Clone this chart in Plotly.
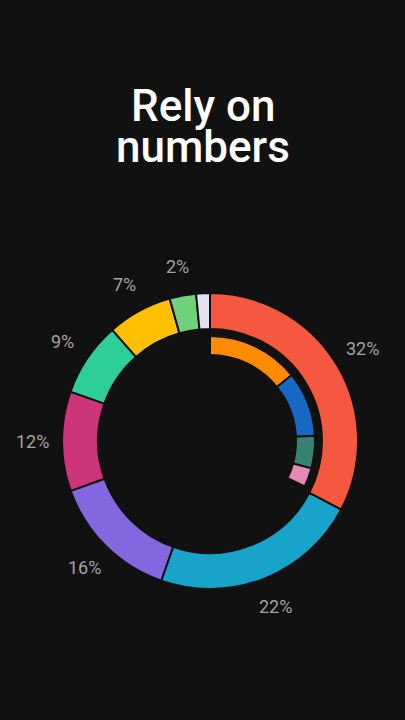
import math
import plotly.graph_objects as go

# ---- data ----
outer_names = ["A", "B", "C", "D", "E", "F", "G", "H"]
outer_values = [32.7, 22.7, 14.2, 10.9, 8.1, 7.1, 2.9, 1.5]
outer_labels = ["32%", "22%", "16%", "12%", "9%", "7%", "2%", ""]
outer_colors = ["#F5583E", "#18A3CB", "#8466DE", "#CE347A", "#2ECE98", "#FFC000", "#70D07C", "#E2E1F0"]

inner_names = ["A1", "A2", "A3", "A4", "rest"]
inner_values = [14.2, 10.0, 5.0, 2.9, 67.9]
inner_colors = ["#FF8C00", "#1768C3", "#358370", "#E888B8", "rgba(0,0,0,0)"]

title_lines = ["Rely on", "numbers"]

# ---- layout constants (pixels) ----
W, H = 405, 720
BG = "#121111"
CX, CY = 210, 441
R_OUT, R_OUT_IN = 148, 112
R_IN, R_IN_IN = 105, 86
R_LAB = 178


def dom(r):
    return dict(x=[(CX - r) / W, (CX + r) / W], y=[1 - (CY + r) / H, 1 - (CY - r) / H])


fig = go.Figure()
fig.add_trace(go.Pie(
    labels=outer_names, values=outer_values, sort=False, direction="clockwise", rotation=0,
    hole=R_OUT_IN / R_OUT, domain=dom(R_OUT),
    marker=dict(colors=outer_colors, line=dict(color=BG, width=2)),
    textinfo="none", hoverinfo="skip", showlegend=False,
))
fig.add_trace(go.Pie(
    labels=inner_names, values=inner_values, sort=False, direction="clockwise", rotation=0,
    hole=R_IN_IN / R_IN, domain=dom(R_IN),
    marker=dict(colors=inner_colors, line=dict(color=[BG, BG, BG, BG, "rgba(0,0,0,0)"], width=[2, 2, 2, 2, 0])),
    textinfo="none", hoverinfo="skip", showlegend=False,
))

annotations = []
total = sum(outer_values)
cum = 0.0
for v, t in zip(outer_values, outer_labels):
    a = math.radians((cum + v / 2) / total * 360)
    cum += v
    if not t:
        continue
    px = CX + R_LAB * math.sin(a)
    py = CY - R_LAB * math.cos(a)
    annotations.append(dict(
        x=px / W, y=1 - py / H, xref="paper", yref="paper", text=t, showarrow=False,
        xanchor="center", yanchor="middle",
        font=dict(family="Roboto", size=18, color="#A2A2A2"),
    ))

for i, line in enumerate(title_lines):
    annotations.append(dict(
        x=0.5, y=1 - (106 + 41 * i) / H, xref="paper", yref="paper", text=line, showarrow=False,
        xanchor="center", yanchor="middle",
        font=dict(family="Roboto", size=44, color="#FFFFFF", weight=500),
    ))

fig.update_layout(
    width=W, height=H, margin=dict(l=0, r=0, t=0, b=0),
    paper_bgcolor=BG, plot_bgcolor=BG,
    annotations=annotations, showlegend=False,
)

fig.write_html("out.html", config={"displayModeBar": False, "staticPlot": True})

# remove the default page margin so the figure fills the window
with open("out.html", encoding="utf-8") as f:
    html = f.read()
html = html.replace("<head>", "<head><style>html,body{margin:0;padding:0;background:#121111;}</style>", 1)
with open("out.html", "w", encoding="utf-8") as f:
    f.write(html)
